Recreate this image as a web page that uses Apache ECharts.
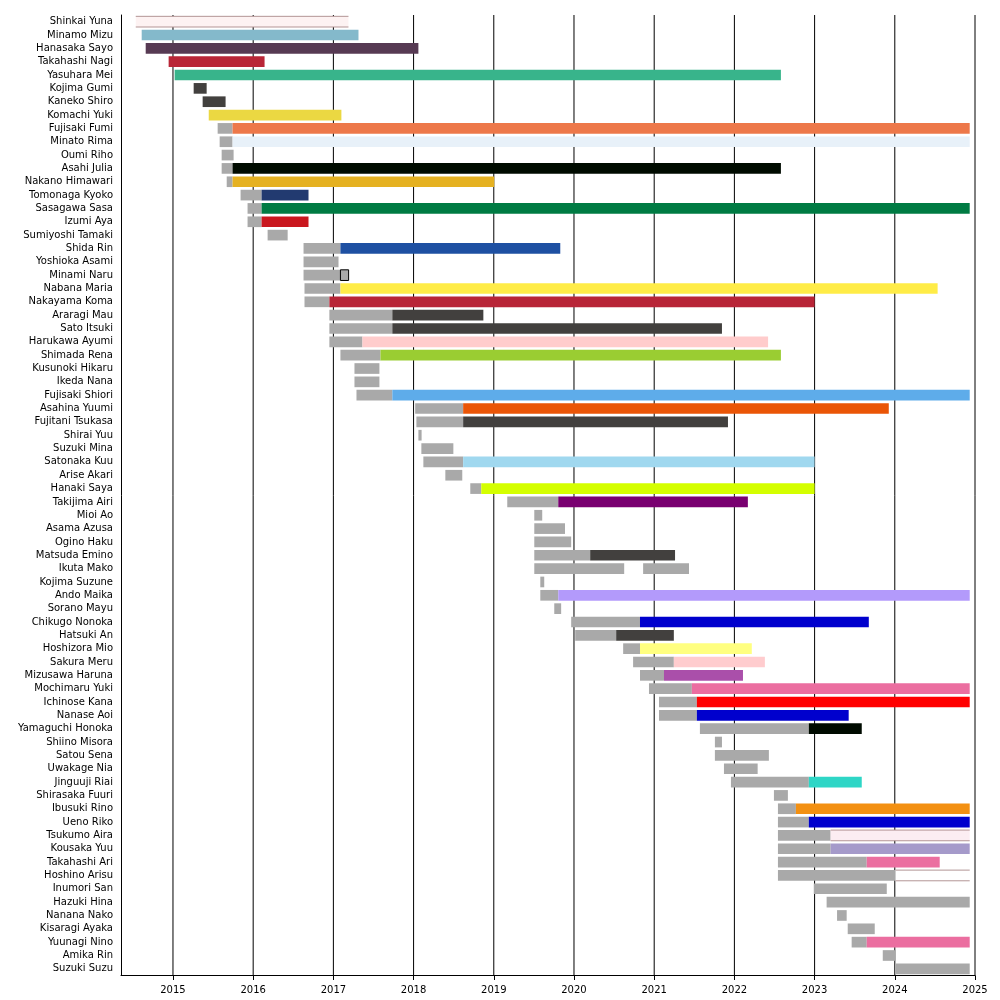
<!DOCTYPE html>
<html>
<head>
<meta charset="utf-8">
<script src="https://cdn.jsdelivr.net/npm/echarts@6/dist/echarts.min.js"></script>
<style>
html,body{margin:0;padding:0;background:#fff;}
#chart{width:1000px;height:1000px;}
</style>
</head>
<body>
<div id="chart"></div>
<script>
// ---- Data ----
const names = [
  "Shinkai Yuna","Minamo Mizu","Hanasaka Sayo","Takahashi Nagi","Yasuhara Mei","Kojima Gumi",
  "Kaneko Shiro","Komachi Yuki","Fujisaki Fumi","Minato Rima","Oumi Riho","Asahi Julia",
  "Nakano Himawari","Tomonaga Kyoko","Sasagawa Sasa","Izumi Aya","Sumiyoshi Tamaki","Shida Rin",
  "Yoshioka Asami","Minami Naru","Nabana Maria","Nakayama Koma","Araragi Mau","Sato Itsuki",
  "Harukawa Ayumi","Shimada Rena","Kusunoki Hikaru","Ikeda Nana","Fujisaki Shiori","Asahina Yuumi",
  "Fujitani Tsukasa","Shirai Yuu","Suzuki Mina","Satonaka Kuu","Arise Akari","Hanaki Saya",
  "Takijima Airi","Mioi Ao","Asama Azusa","Ogino Haku","Matsuda Emino","Ikuta Mako",
  "Kojima Suzune","Ando Maika","Sorano Mayu","Chikugo Nonoka","Hatsuki An","Hoshizora Mio",
  "Sakura Meru","Mizusawa Haruna","Mochimaru Yuki","Ichinose Kana","Nanase Aoi","Yamaguchi Honoka",
  "Shiino Misora","Satou Sena","Uwakage Nia","Jinguuji Riai","Shirasaka Fuuri","Ibusuki Rino",
  "Ueno Riko","Tsukumo Aira","Kousaka Yuu","Takahashi Ari","Hoshino Arisu","Inumori San",
  "Hazuki Hina","Nanana Nako","Kisaragi Ayaka","Yuunagi Nino","Amika Rin","Suzuki Suzu"
];

const yearTicks = [2015,2016,2017,2018,2019,2020,2021,2022,2023,2024,2025];

const G = "#a9a9a9";   // grey (pre-period)
const D = "#42403e";   // dark grey

// segments: person, start (decimal year), end (decimal year), colour
const segName = [
  "Shinkai Yuna","Minamo Mizu","Hanasaka Sayo","Takahashi Nagi","Yasuhara Mei","Kojima Gumi","Kaneko Shiro","Komachi Yuki",
  "Fujisaki Fumi","Fujisaki Fumi","Minato Rima","Minato Rima","Oumi Riho","Asahi Julia","Asahi Julia",
  "Nakano Himawari","Nakano Himawari","Tomonaga Kyoko","Tomonaga Kyoko","Sasagawa Sasa","Sasagawa Sasa",
  "Izumi Aya","Izumi Aya","Sumiyoshi Tamaki","Shida Rin","Shida Rin","Yoshioka Asami","Minami Naru","Minami Naru",
  "Nabana Maria","Nabana Maria","Nakayama Koma","Nakayama Koma","Araragi Mau","Araragi Mau","Sato Itsuki","Sato Itsuki",
  "Harukawa Ayumi","Harukawa Ayumi","Shimada Rena","Shimada Rena","Kusunoki Hikaru","Ikeda Nana",
  "Fujisaki Shiori","Fujisaki Shiori","Asahina Yuumi","Asahina Yuumi","Fujitani Tsukasa","Fujitani Tsukasa",
  "Shirai Yuu","Suzuki Mina","Satonaka Kuu","Satonaka Kuu","Arise Akari","Hanaki Saya","Hanaki Saya",
  "Takijima Airi","Takijima Airi","Mioi Ao","Asama Azusa","Ogino Haku","Matsuda Emino","Matsuda Emino",
  "Ikuta Mako","Ikuta Mako","Kojima Suzune","Ando Maika","Ando Maika","Sorano Mayu",
  "Chikugo Nonoka","Chikugo Nonoka","Hatsuki An","Hatsuki An","Hoshizora Mio","Hoshizora Mio",
  "Sakura Meru","Sakura Meru","Mizusawa Haruna","Mizusawa Haruna","Mochimaru Yuki","Mochimaru Yuki",
  "Ichinose Kana","Ichinose Kana","Nanase Aoi","Nanase Aoi","Yamaguchi Honoka","Yamaguchi Honoka",
  "Shiino Misora","Satou Sena","Uwakage Nia","Jinguuji Riai","Jinguuji Riai","Shirasaka Fuuri",
  "Ibusuki Rino","Ibusuki Rino","Ueno Riko","Ueno Riko","Tsukumo Aira","Tsukumo Aira","Kousaka Yuu","Kousaka Yuu",
  "Takahashi Ari","Takahashi Ari","Hoshino Arisu","Hoshino Arisu","Inumori San","Hazuki Hina","Nanana Nako",
  "Kisaragi Ayaka","Yuunagi Nino","Yuunagi Nino","Amika Rin","Suzuki Suzu"
];
const segStart = [
  2014.536,2014.610,2014.660,2014.946,2015.021,2015.258,2015.370,2015.446,
  2015.557,2015.743,2015.582,2015.743,2015.607,2015.607,2015.743,
  2015.670,2015.743,2015.843,2016.105,2015.930,2016.105,
  2015.930,2016.105,2016.180,2016.628,2017.088,2016.628,2016.628,2017.088,
  2016.640,2017.088,2016.640,2016.950,2016.950,2017.735,2016.950,2017.735,
  2016.950,2017.362,2017.088,2017.587,2017.263,2017.263,
  2017.288,2017.735,2018.020,2018.618,2018.035,2018.618,
  2018.060,2018.097,2018.122,2018.618,2018.396,2018.707,2018.844,
  2019.168,2019.804,2019.505,2019.505,2019.505,2019.505,2020.202,
  2019.505,2020.862,2019.580,2019.580,2019.804,2019.754,
  2019.965,2020.823,2020.015,2020.526,2020.613,2020.823,
  2020.737,2021.245,2020.823,2021.122,2020.935,2021.470,
  2021.060,2021.532,2021.060,2021.532,2021.570,2022.928,
  2021.757,2021.757,2021.870,2021.957,2022.928,2022.493,
  2022.543,2022.767,2022.543,2022.928,2022.543,2023.200,2022.543,2023.200,
  2022.543,2023.650,2022.543,2024.010,2022.990,2023.150,2023.280,
  2023.413,2023.462,2023.650,2023.850,2024.010
];
const segEnd = [
  2017.188,2017.313,2018.060,2016.142,2022.580,2015.420,2015.656,2017.100,
  2015.743,2024.934,2015.743,2024.934,2015.756,2015.743,2022.580,
  2015.743,2019.006,2016.105,2016.690,2016.105,2024.934,
  2016.105,2016.690,2016.430,2017.088,2019.829,2017.064,2017.088,2017.190,
  2017.088,2024.534,2016.950,2023.000,2017.735,2018.870,2017.735,2021.845,
  2017.362,2022.420,2017.587,2022.580,2017.574,2017.574,
  2017.735,2024.934,2018.618,2023.925,2018.618,2021.920,
  2018.100,2018.496,2018.618,2023.000,2018.607,2018.844,2023.000,
  2019.804,2022.168,2019.604,2019.888,2019.965,2020.202,2021.260,
  2020.626,2021.434,2019.629,2019.804,2024.934,2019.840,
  2020.823,2023.676,2020.526,2021.245,2020.823,2022.217,
  2021.245,2022.380,2021.122,2022.107,2021.470,2024.934,
  2021.532,2024.934,2021.532,2023.425,2022.928,2023.588,
  2021.845,2022.430,2022.290,2022.928,2023.588,2022.667,
  2022.767,2024.934,2022.928,2024.934,2023.200,2024.934,2023.200,2024.934,
  2023.650,2024.560,2024.010,2024.934,2023.900,2024.934,2023.400,
  2023.750,2023.650,2024.934,2024.010,2024.934
];
const segColor = [
  "#fdf2f2","#84b9cb","#573a53","#b92637","#38b48b",D,D,"#ebd842",
  G,"#ed784a",G,"#e8f1f9",G,G,"#000b00",
  G,"#e5b121",G,"#223a70",G,"#007b43",
  G,"#c9171e",G,G,"#1e50a2",G,G,G,
  G,"#ffec47",G,"#b82537",G,D,G,D,
  G,"#ffcccc",G,"#9acd32",G,G,
  G,"#5eacea",G,"#ea5506",G,D,
  G,G,G,"#a0d8ef",G,G,"#d4ff00",
  G,"#790070",G,G,G,G,D,
  G,G,G,G,"#b39afb",G,
  G,"#0000cd",G,D,G,"#ffff80",
  G,"#ffccce",G,"#aa4faa",G,"#eb6ea0",
  G,"#ff0000",G,"#0000cd",G,"#000b00",
  G,G,G,G,"#2ed6c6",G,
  G,"#f39012",G,"#0000cd",G,"#fcedf2",G,"#a59aca",
  G,"#eb6ea0",G,"#ffffff",G,G,G,
  G,G,"#eb6ea0",G,G
];
// segments drawn with thin top/bottom rules, and the one drawn with a black outline
const linedSegments = [0, 98, 104];
const boxedSegments = [28];

// ---- Build ----
const nameIndex = {};
names.forEach((n, i) => nameIndex[n] = i);
const segData = segName.map((n, i) => [nameIndex[n], segStart[i], segEnd[i]]);

const chart = echarts.init(document.getElementById('chart'), null, {renderer: 'canvas'});

const option = {
  backgroundColor: '#ffffff',
  animation: false,
  grid: {left: 121, right: 25, top: 15, bottom: 24.5, containLabel: false},
  xAxis: {
    type: 'value',
    min: 2014.352,
    max: 2025,
    axisLine: {show: true, lineStyle: {color: '#000', width: 1}},
    axisTick: {show: true, customValues: yearTicks, length: 4.5, lineStyle: {color: '#000', width: 1}},
    axisLabel: {
      show: true, customValues: yearTicks, color: '#000', fontSize: 10,
      fontFamily: 'DejaVu Sans', margin: 10,
      formatter: v => String(Math.round(v))
    },
    splitLine: {show: false}
  },
  yAxis: {
    type: 'category',
    inverse: true,
    data: names,
    axisLine: {show: true, lineStyle: {color: '#000', width: 1}},
    axisTick: {show: false},
    axisLabel: {color: '#000', fontSize: 10, fontFamily: 'DejaVu Sans', margin: 8, interval: 0, padding: [2, 0, 0, 0]},
    splitLine: {show: false}
  },
  series: [
    {
      type: 'custom',
      name: 'years',
      z: 1,
      silent: true,
      data: yearTicks.map(y => [y]),
      encode: {x: 0},
      renderItem: function (params, api) {
        const x = api.coord([api.value(0), 0])[0];
        const cs = params.coordSys;
        return {
          type: 'line',
          shape: {x1: x, y1: cs.y, x2: x, y2: cs.y + cs.height},
          style: {stroke: '#000', lineWidth: 1}
        };
      }
    },
    {
      type: 'custom',
      name: 'segments',
      z: 2,
      data: segData,
      encode: {x: [1, 2], y: 0},
      renderItem: function (params, api) {
        const row = api.value(0);
        const p0 = api.coord([api.value(1), row]);
        const p1 = api.coord([api.value(2), row]);
        const h = api.size([0, 1])[1] * 0.8;
        const color = segColor[params.dataIndex];
        const x = p0[0], y = p0[1] - h / 2, w = p1[0] - p0[0];
        if (linedSegments.indexOf(params.dataIndex) >= 0) {
          return {
            type: 'group',
            children: [
              {type: 'rect', shape: {x: x, y: y, width: w, height: h}, style: {fill: color}},
              {type: 'line', shape: {x1: x, y1: y, x2: x + w, y2: y}, style: {stroke: '#b39595', lineWidth: 1}},
              {type: 'line', shape: {x1: x, y1: y + h, x2: x + w, y2: y + h}, style: {stroke: '#b39595', lineWidth: 1}}
            ]
          };
        }
        if (boxedSegments.indexOf(params.dataIndex) >= 0) {
          return {type: 'rect', shape: {x: x, y: y, width: w, height: h}, style: {fill: color, stroke: '#000', lineWidth: 1}};
        }
        return {type: 'rect', shape: {x: x, y: y, width: w, height: h}, style: {fill: color}};
      }
    }
  ]
};
chart.setOption(option);
</script>
</body>
</html>
